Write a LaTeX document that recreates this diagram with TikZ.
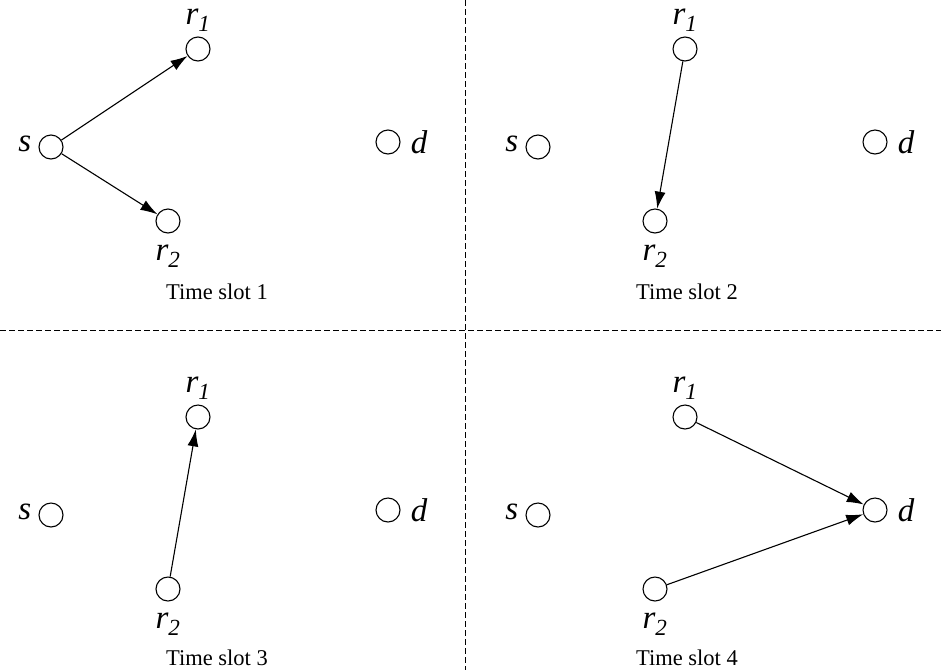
\documentclass[tikz,border=0pt]{standalone}
\usepackage{fontspec}
\setmainfont{Liberation Serif}
\usetikzlibrary{arrows.meta}

\begin{document}
\begin{tikzpicture}[
        x=1pt, y=-1pt,
        nd/.style={circle, draw=black, line width=1.1pt, minimum size=24pt, inner sep=0pt},
        every label/.style={font=\fontsize{33}{38}\selectfont, inner sep=1pt},
        slot/.style={font=\fontsize{22.5}{27}\selectfont},
        arrow/.style={-{Latex[length=17pt, width=11pt]}, line width=1.1pt},
        sep/.style={dash pattern=on 6pt off 3pt, line width=0.8pt}
    ]
        \useasboundingbox (0,0) rectangle (941,670);

        % Time slot 1
        \begin{scope}
            \node[nd, label={[label distance=6pt, yshift=3pt]left:\textit{s}}] (s1) at (51,147) {};
            \node[nd, label={[label distance=4pt]above:\textit{r}\textsubscript{\textit{1}}}] (ra1) at (198,49) {};
            \node[nd, label={[label distance=10pt]below:\textit{r}\textsubscript{\textit{2}}}] (rb1) at (168,221) {};
            \node[nd, label={[label distance=9pt]right:\textit{d}}] (d1) at (388,142) {};
        \end{scope}

        % Time slot 2
        \begin{scope}[shift={(487,0)}]
            \node[nd, label={[label distance=6pt, yshift=3pt]left:\textit{s}}] (s2) at (51,147) {};
            \node[nd, label={[label distance=4pt]above:\textit{r}\textsubscript{\textit{1}}}] (ra2) at (198,49) {};
            \node[nd, label={[label distance=10pt]below:\textit{r}\textsubscript{\textit{2}}}] (rb2) at (168,221) {};
            \node[nd, label={[label distance=9pt]right:\textit{d}}] (d2) at (388,142) {};
        \end{scope}

        % Time slot 3
        \begin{scope}[shift={(0,368)}]
            \node[nd, label={[label distance=6pt, yshift=3pt]left:\textit{s}}] (s3) at (51,147) {};
            \node[nd, label={[label distance=4pt]above:\textit{r}\textsubscript{\textit{1}}}] (ra3) at (198,49) {};
            \node[nd, label={[label distance=10pt]below:\textit{r}\textsubscript{\textit{2}}}] (rb3) at (168,221) {};
            \node[nd, label={[label distance=9pt]right:\textit{d}}] (d3) at (388,142) {};
        \end{scope}

        % Time slot 4
        \begin{scope}[shift={(487,368)}]
            \node[nd, label={[label distance=6pt, yshift=3pt]left:\textit{s}}] (s4) at (51,147) {};
            \node[nd, label={[label distance=4pt]above:\textit{r}\textsubscript{\textit{1}}}] (ra4) at (198,49) {};
            \node[nd, label={[label distance=10pt]below:\textit{r}\textsubscript{\textit{2}}}] (rb4) at (168,221) {};
            \node[nd, label={[label distance=9pt]right:\textit{d}}] (d4) at (388,142) {};
        \end{scope}

        % Captions
        \node[slot] (cap1) at (217,292) {Time slot 1};
        \node[slot] (cap2) at (687,292) {Time slot 2};
        \node[slot] (cap3) at (217,658) {Time slot 3};
        \node[slot] (cap4) at (687,658) {Time slot 4};

        % Separators
        \coordinate (vtop) at (465,0);
        \coordinate (vbot) at (465,670);
        \coordinate (hleft) at (0,330);
        \coordinate (hright) at (941,330);
        \draw[sep] (vtop) -- (vbot);
        \draw[sep] (hleft) -- (hright);

        % Transmissions
        \draw[arrow] (s1) -- (ra1);
        \draw[arrow] (s1) -- (rb1);
        \draw[arrow] (ra2) -- (rb2);
        \draw[arrow] (rb3) -- (ra3);
        \draw[arrow] (ra4) -- (d4);
        \draw[arrow] (rb4) -- (d4);

    \end{tikzpicture}
\end{document}
